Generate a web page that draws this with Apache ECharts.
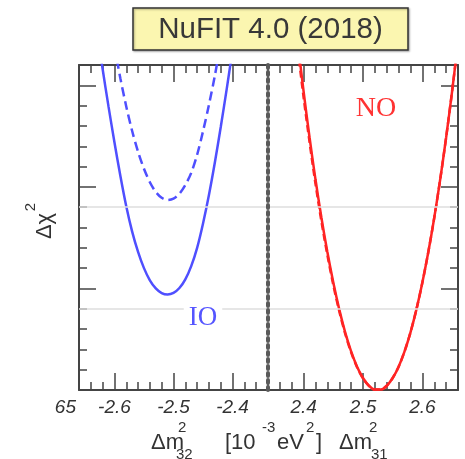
<!DOCTYPE html>
<html><head><meta charset="utf-8">
<script src="https://cdn.jsdelivr.net/npm/echarts@6/dist/echarts.min.js"></script>
<style>html,body{margin:0;padding:0;background:#fff}#c{width:465px;height:459px}</style>
</head><body><div id="c"></div>
<script>
// ---- data (Δχ² profiles) ----
const ioX = [-2.63,-2.62,-2.61,-2.60,-2.59,-2.58,-2.57,-2.56,-2.55,-2.54,-2.53,-2.52,-2.51,-2.50,-2.49,-2.48,-2.47,-2.46,-2.45,-2.44,-2.43,-2.42,-2.41,-2.40];
const ioSolid = [17.75,15.8,13.95,12.2,10.55,9.05,7.8,6.8,6.0,5.4,5.0,4.77,4.70,4.78,5.02,5.45,6.1,7.0,8.2,9.6,11.2,12.95,14.8,16.75];
const ioDashedX = [-2.60,-2.59,-2.58,-2.57,-2.56,-2.55,-2.54,-2.53,-2.52,-2.51,-2.50,-2.49,-2.48,-2.47,-2.46,-2.45,-2.44,-2.43,-2.42];
const ioDashed = [16.93,15.35,13.96,12.75,11.73,10.89,10.23,9.75,9.46,9.35,9.42,9.66,10.09,10.69,11.58,12.74,14.04,15.47,17.11];
const noX = [2.39,2.40,2.41,2.42,2.43,2.44,2.45,2.46,2.47,2.48,2.49,2.50,2.51,2.52,2.53,2.54,2.55,2.56,2.57,2.58,2.59,2.60,2.61,2.62,2.63,2.64,2.65,2.66];
const noSolid = [17.13,14.69,12.43,10.36,8.48,6.79,5.29,3.97,2.84,1.90,1.15,0.59,0.21,0.02,0.02,0.21,0.59,1.15,1.90,2.84,3.97,5.29,6.79,8.48,10.36,12.43,14.69,17.13];
const noDashed = [16.8,14.4,12.2,10.15,8.3,6.65,5.17,3.88,2.77,1.85,1.12,0.57,0.2,0.02,0.02,0.21,0.59,1.15,1.90,2.84,3.97,5.29,6.79,8.48,10.36,12.43,14.69,17.13];
const refLevels = [4, 9];
const leftRange = [-2.66, -2.34];
const rightRange = [2.34, 2.66];
const yRange = [0, 16];
const titleText = 'NuFIT 4.0 (2018)';

// ---- build ----
const pair = (xs, ys) => xs.map((x, i) => [x, ys[i]]);
const FRAME = '#444';
const TXT = '#333';
const BLUE = '#4f4fff';
const RED = '#ff2424';
const SANS = '"Liberation Sans", Arial, sans-serif';
const SERIF = '"Liberation Serif", "Times New Roman", serif';

function xAx(grid, range, pos, major, labels) {
  const a = {
    type: 'value', gridIndex: grid, position: pos, min: range[0], max: range[1],
    splitLine: { show: false },
    axisLine: { show: major, onZero: false, lineStyle: { color: FRAME, width: 2 } },
    axisTick: { show: true, inside: true, length: major ? 17 : 8, lineStyle: { color: FRAME, width: 1.5 } },
    axisLabel: { show: false }
  };
  if (major) { a.splitNumber = 3; } else { a.interval = 0.02; }
  if (labels) {
    a.axisLabel = {
      show: true, margin: 8, color: TXT, fontSize: 19, fontStyle: 'italic', fontFamily: SANS,
      showMinLabel: false, showMaxLabel: false,
      formatter: v => (Math.abs(v * 10 - Math.round(v * 10)) < 1e-6 ? v.toFixed(1) : '')
    };
  }
  return a;
}
function yAx(grid, pos, major) {
  return {
    type: 'value', gridIndex: grid, position: pos, min: yRange[0], max: yRange[1],
    interval: major ? 5 : 1,
    splitLine: { show: false },
    axisLine: { show: major, onZero: false, lineStyle: { color: FRAME, width: 2 } },
    axisTick: { show: true, inside: true, length: major ? 17 : 8, lineStyle: { color: FRAME, width: 1.5 } },
    axisLabel: { show: false }
  };
}
const refMark = {
  silent: true, symbol: 'none', label: { show: false },
  lineStyle: { color: '#dedede', width: 1.5, type: 'solid' },
  data: refLevels.map(v => ({ yAxis: v }))
};
function txt(text, x, y, opt) {
  return Object.assign({
    type: 'text', x: x, y: y, z: 50, silent: true,
    style: Object.assign({ text: text, fill: TXT, font: '22px ' + SANS, align: 'left', verticalAlign: 'middle' }, opt || {})
  });
}

const option = {
  animation: false,
  backgroundColor: '#fff',
  grid: [
    { left: 79, top: 65, width: 189, height: 325 },
    { left: 268, top: 65, width: 190, height: 325 }
  ],
  xAxis: [
    xAx(0, leftRange, 'bottom', true, true),
    xAx(0, leftRange, 'bottom', false, false),
    xAx(0, leftRange, 'top', true, false),
    xAx(0, leftRange, 'top', false, false),
    xAx(1, rightRange, 'bottom', true, true),
    xAx(1, rightRange, 'bottom', false, false),
    xAx(1, rightRange, 'top', true, false),
    xAx(1, rightRange, 'top', false, false)
  ],
  yAxis: [
    yAx(0, 'left', true),
    yAx(0, 'left', false),
    yAx(1, 'right', true),
    yAx(1, 'right', false),
    {
      type: 'value', gridIndex: 1, position: 'left', min: yRange[0], max: yRange[1], z: 10,
      splitLine: { show: false }, axisTick: { show: false }, axisLabel: { show: false },
      axisLine: { show: true, onZero: false, lineStyle: { color: '#5a5a5a', width: 4, type: [3, 4] } }
    }
  ],
  series: [
    { type: 'line', xAxisIndex: 0, yAxisIndex: 0, data: pair(ioDashedX, ioDashed), showSymbol: false, smooth: 0.3, z: 2,
      lineStyle: { color: BLUE, width: 2.5, type: [9, 5] }, markLine: refMark },
    { type: 'line', xAxisIndex: 0, yAxisIndex: 0, data: pair(ioX, ioSolid), showSymbol: false, smooth: 0.3, z: 3,
      lineStyle: { color: BLUE, width: 2.5 } },
    { type: 'line', xAxisIndex: 4, yAxisIndex: 2, data: pair(noX, noDashed), showSymbol: false, smooth: 0.3, z: 2,
      lineStyle: { color: RED, width: 2.5, type: [7, 4] }, markLine: refMark },
    { type: 'line', xAxisIndex: 4, yAxisIndex: 2, data: pair(noX, noSolid), showSymbol: false, smooth: 0.3, z: 3,
      lineStyle: { color: RED, width: 2.5 } }
  ],
  graphic: [
    { type: 'rect', z: 40, silent: true, shape: { x: 133, y: 8, width: 275, height: 42 },
      style: { fill: '#fbf6b0', stroke: '#333', lineWidth: 1.5, shadowBlur: 2, shadowColor: 'rgba(0,0,0,0.3)', shadowOffsetX: 1, shadowOffsetY: 1 } },
    txt(titleText, 270.5, 29.5, { font: '29.5px ' + SANS, align: 'center', fill: '#383838' }),
    txt('IO', 203, 318, { font: '27px ' + SERIF, align: 'center', fill: '#5555ff', backgroundColor: '#fff', padding: [0, 5] }),
    txt('NO', 376, 109, { font: '28px ' + SERIF, align: 'center', fill: '#ff3333' }),
    // y-axis title
    { type: 'text', x: 45, y: 226, rotation: Math.PI / 2, z: 50, silent: true,
      style: { text: 'Δχ', fill: TXT, font: '22px ' + SANS, align: 'center', verticalAlign: 'middle' } },
    { type: 'text', x: 31, y: 207, rotation: Math.PI / 2, z: 50, silent: true,
      style: { text: '2', fill: TXT, font: '15px ' + SANS, align: 'center', verticalAlign: 'middle' } },
    // partial tick label at left edge
    txt('65', 76, 408, { font: 'italic 19px ' + SANS, align: 'right' }),
    // x-axis title pieces
    txt('Δm', 151, 443),
    txt('2', 178, 428, { font: '15px ' + SANS }),
    txt('32', 176, 455, { font: '15px ' + SANS }),
    txt('[10', 225, 443),
    txt('-3', 262, 428, { font: '15px ' + SANS }),
    txt('eV', 277, 443),
    txt('2', 306, 428, { font: '15px ' + SANS }),
    txt(']', 316, 443),
    txt('Δm', 339, 443),
    txt('2', 369, 428, { font: '15px ' + SANS }),
    txt('31', 371, 455, { font: '15px ' + SANS })
  ]
};
const chart = echarts.init(document.getElementById('c'), null, { renderer: 'canvas' });
chart.setOption(option);
</script>
</body></html>
